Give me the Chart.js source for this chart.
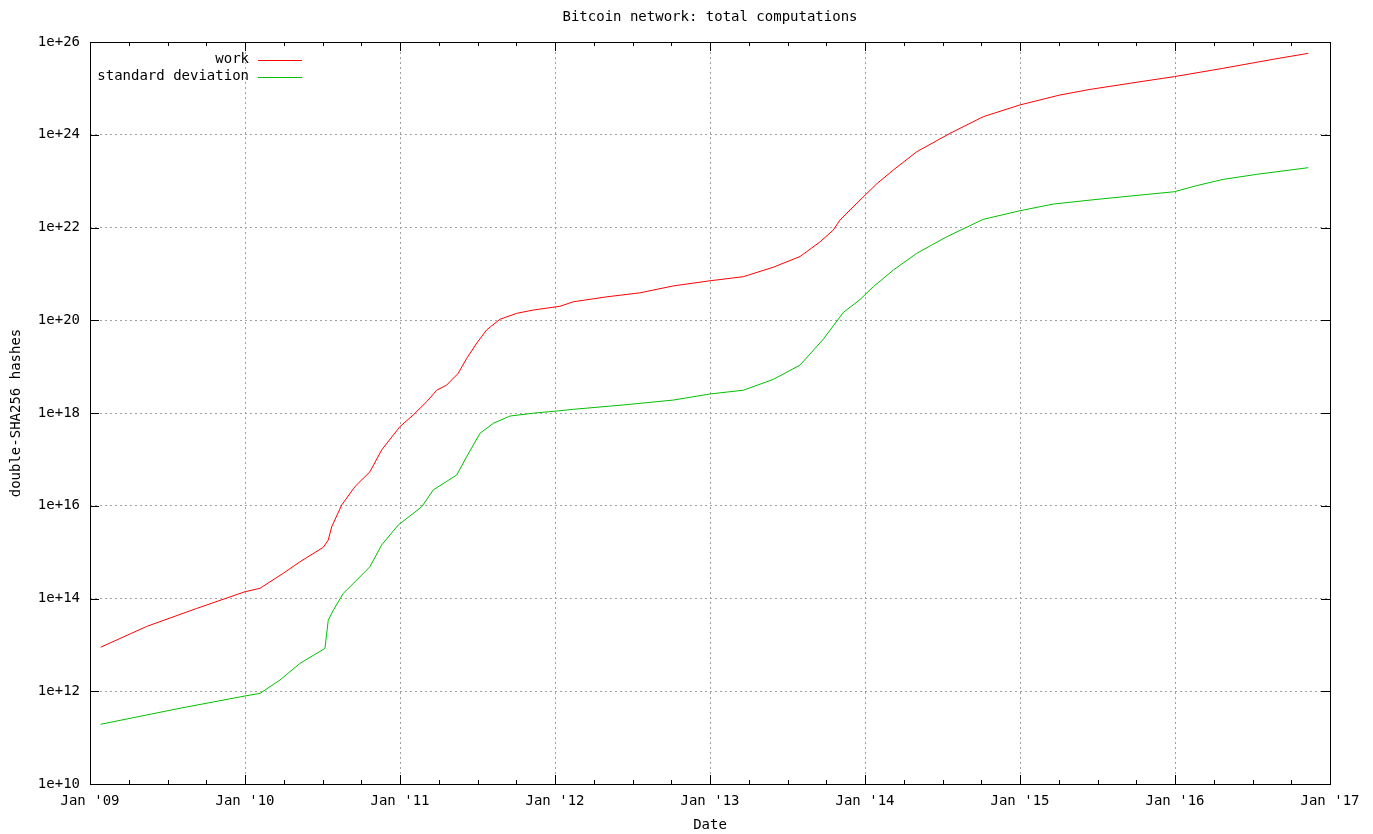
<!DOCTYPE html>
<html>
<head>
<meta charset="utf-8">
<title>Bitcoin network: total computations</title>
<script src="https://cdn.jsdelivr.net/npm/chart.js@4.4.1/dist/chart.umd.min.js"></script>
<style>
	html, body { margin: 0; padding: 0; background: #fff; }
	.chart { position: relative; width: 1373px; height: 834px; }
</style>
</head>
<body>
<div class="chart"><canvas id="myChart"></canvas></div>
<script>
/* Data (dates as decimal years) */
const workDates = [2009.069, 2009.366, 2009.688, 2010.0, 2010.097, 2010.247, 2010.355, 2010.505, 2010.537, 2010.559, 2010.624, 2010.710, 2010.806, 2010.882, 2011.0, 2011.086, 2011.172, 2011.237, 2011.301, 2011.376, 2011.430, 2011.495, 2011.559, 2011.645, 2011.753, 2011.860, 2012.032, 2012.118, 2012.334, 2012.548, 2012.763, 2013.0, 2013.215, 2013.408, 2013.581, 2013.710, 2013.795, 2013.839, 2013.968, 2014.075, 2014.183, 2014.334, 2014.548, 2014.763, 2015.0, 2015.258, 2015.452, 2015.774, 2015.995, 2016.311, 2016.634, 2016.860]
const workValues = [8.9e12, 2.5e13, 6.1e13, 1.4e14, 1.66e14, 3.5e14, 6.2e14, 1.27e15, 1.82e15, 3.5e15, 1.04e16, 2.6e16, 5.4e16, 1.6e17, 5.1e17, 9.1e17, 1.75e18, 3.1e18, 4.0e18, 7.2e18, 1.5e19, 3.2e19, 6.2e19, 1.05e20, 1.41e20, 1.66e20, 2.0e20, 2.5e20, 3.2e20, 3.9e20, 5.5e20, 7.1e20, 8.7e20, 1.39e21, 2.37e21, 4.9e21, 8.8e21, 1.45e22, 3.9e22, 8.7e22, 1.74e23, 4.3e23, 1.07e24, 2.45e24, 4.4e24, 7.2e24, 9.5e24, 1.39e25, 1.79e25, 2.71e25, 4.24e25, 5.7e25]

const sdDates = [2009.069, 2009.581, 2010.0, 2010.097, 2010.226, 2010.355, 2010.516, 2010.537, 2010.570, 2010.634, 2010.721, 2010.806, 2010.882, 2010.989, 2011.140, 2011.215, 2011.366, 2011.430, 2011.516, 2011.602, 2011.710, 2011.860, 2012.032, 2012.118, 2012.441, 2012.763, 2013.0, 2013.215, 2013.408, 2013.581, 2013.731, 2013.860, 2013.968, 2014.054, 2014.183, 2014.334, 2014.527, 2014.763, 2015.0, 2015.215, 2015.452, 2015.774, 2015.995, 2016.140, 2016.311, 2016.527, 2016.860]
const sdValues = [1.94e11, 4.3e11, 7.9e11, 9.0e11, 1.75e12, 4.0e12, 8.4e12, 3.4e13, 5.6e13, 1.29e14, 2.5e14, 4.85e14, 1.43e15, 3.85e15, 9.5e15, 2.2e16, 4.6e16, 1.14e17, 3.65e17, 6.0e17, 8.6e17, 9.9e17, 1.12e18, 1.2e18, 1.49e18, 1.9e18, 2.57e18, 3.1e18, 5.3e18, 1.08e19, 3.9e19, 1.47e20, 2.8e20, 5.3e20, 1.21e21, 2.78e21, 6.3e21, 1.5e22, 2.3e22, 3.2e22, 3.9e22, 5.0e22, 5.9e22, 8.0e22, 1.09e23, 1.4e23, 1.95e23]

const xTicks = [2009, 2010, 2011, 2012, 2013, 2014, 2015, 2016, 2017]
const xTickLabels = ["Jan '09", "Jan '10", "Jan '11", "Jan '12", "Jan '13", "Jan '14", "Jan '15", "Jan '16", "Jan '17"]
const yTicks = [1e10, 1e12, 1e14, 1e16, 1e18, 1e20, 1e22, 1e24, 1e26]
const yTickLabels = ['1e+10', '1e+12', '1e+14', '1e+16', '1e+18', '1e+20', '1e+22', '1e+24', '1e+26']

const FONT = { family: 'DejaVu Sans Mono', size: 14, weight: 'normal' }

function toPoints(dates, values) {
	return dates.map((d, i) => ({ x: d, y: values[i] }))
}

/* Gnuplot style frame, inward ticks and legend */
const gnuplotFrame = {
	id: 'gnuplotFrame',
	afterDatasetsDraw(chart) {
		const { ctx, chartArea: a, scales } = chart
		const x = scales.x
		const y = scales.y
		ctx.save()
		ctx.strokeStyle = '#000'
		ctx.lineWidth = 1
		ctx.beginPath()
		xTicks.forEach(function (v, i) {
			const px = Math.round(x.getPixelForValue(v)) + 0.5
			ctx.moveTo(px, a.bottom); ctx.lineTo(px, a.bottom - 9)
			ctx.moveTo(px, a.top); ctx.lineTo(px, a.top + 9)
			if (i < xTicks.length - 1) {
				for (let q = 1; q < 4; q++) {
					const mx = Math.round(x.getPixelForValue(v + q / 4)) + 0.5
					ctx.moveTo(mx, a.bottom); ctx.lineTo(mx, a.bottom - 4)
					ctx.moveTo(mx, a.top); ctx.lineTo(mx, a.top + 4)
				}
			}
		})
		yTicks.forEach(function (v) {
			const py = Math.round(y.getPixelForValue(v)) + 0.5
			ctx.moveTo(a.left, py); ctx.lineTo(a.left + 9, py)
			ctx.moveTo(a.right, py); ctx.lineTo(a.right - 9, py)
		})
		ctx.stroke()
		ctx.strokeRect(a.left + 0.5, a.top + 0.5, a.right - a.left, a.bottom - a.top)

		// legend: text right aligned, line sample after it
		ctx.font = FONT.size + 'px "' + FONT.family + '"'
		ctx.textAlign = 'right'
		ctx.textBaseline = 'middle'
		chart.data.datasets.forEach(function (ds, i) {
			const ly = a.top + 17.5 + i * 17
			ctx.fillStyle = '#000'
			ctx.fillText(ds.label, a.left + 159, ly)
			ctx.strokeStyle = ds.borderColor
			ctx.beginPath()
			ctx.moveTo(a.left + 168, Math.round(ly) + 0.5)
			ctx.lineTo(a.left + 212, Math.round(ly) + 0.5)
			ctx.stroke()
		})
		ctx.restore()
	},
}

const ctx = document.getElementById('myChart')

new Chart(ctx, {
	type: 'line',
	data: {
		datasets: [
			{
				label: 'work',
				data: toPoints(workDates, workValues),
				borderColor: '#ff0000',
				borderWidth: 1,
				pointRadius: 0,
				tension: 0,
			},
			{
				label: 'standard deviation',
				data: toPoints(sdDates, sdValues),
				borderColor: '#00c000',
				borderWidth: 1,
				pointRadius: 0,
				tension: 0,
			},
		],
	},
	options: {
		responsive: true,
		maintainAspectRatio: false,
		animation: false,
		layout: {
			padding: { left: 0, right: 43, top: 0, bottom: 0 },
		},
		plugins: {
			legend: { display: false },
			tooltip: { enabled: false },
			title: {
				display: true,
				text: 'Bitcoin network: total computations',
				fullSize: false,
				color: '#000',
				font: FONT,
				padding: { top: 9, bottom: 16.2 },
			},
		},
		scales: {
			x: {
				type: 'linear',
				min: 2009,
				max: 2017,
				afterFit(scale) { scale.height = 50 },
				afterBuildTicks(scale) { scale.ticks = xTicks.map(v => ({ value: v })) },
				border: { display: false, dash: [2, 3] },
				grid: { color: '#a0a0a0', lineWidth: 1, drawTicks: false },
				ticks: {
					autoSkip: false,
					maxRotation: 0,
					padding: 9,
					color: '#000',
					font: FONT,
					callback: function (value) {
						return xTickLabels[xTicks.indexOf(value)]
					},
				},
				title: {
					display: true,
					text: 'Date',
					color: '#000',
					font: FONT,
					padding: { top: 0, bottom: 0 },
				},
			},
			y: {
				type: 'logarithmic',
				min: 1e10,
				max: 1e26,
				afterFit(scale) { scale.width = 90 },
				afterBuildTicks(scale) { scale.ticks = yTicks.map(v => ({ value: v })) },
				border: { display: false, dash: [2, 3] },
				grid: { color: '#a0a0a0', lineWidth: 1, drawTicks: false },
				ticks: {
					padding: 10,
					color: '#000',
					font: FONT,
					callback: function (value) {
						return yTickLabels[yTicks.indexOf(value)]
					},
				},
				title: {
					display: true,
					text: 'double-SHA256 hashes',
					color: '#000',
					font: FONT,
					padding: { top: 8, bottom: 0 },
				},
			},
		},
	},
	plugins: [gnuplotFrame],
})
</script>
</body>
</html>
